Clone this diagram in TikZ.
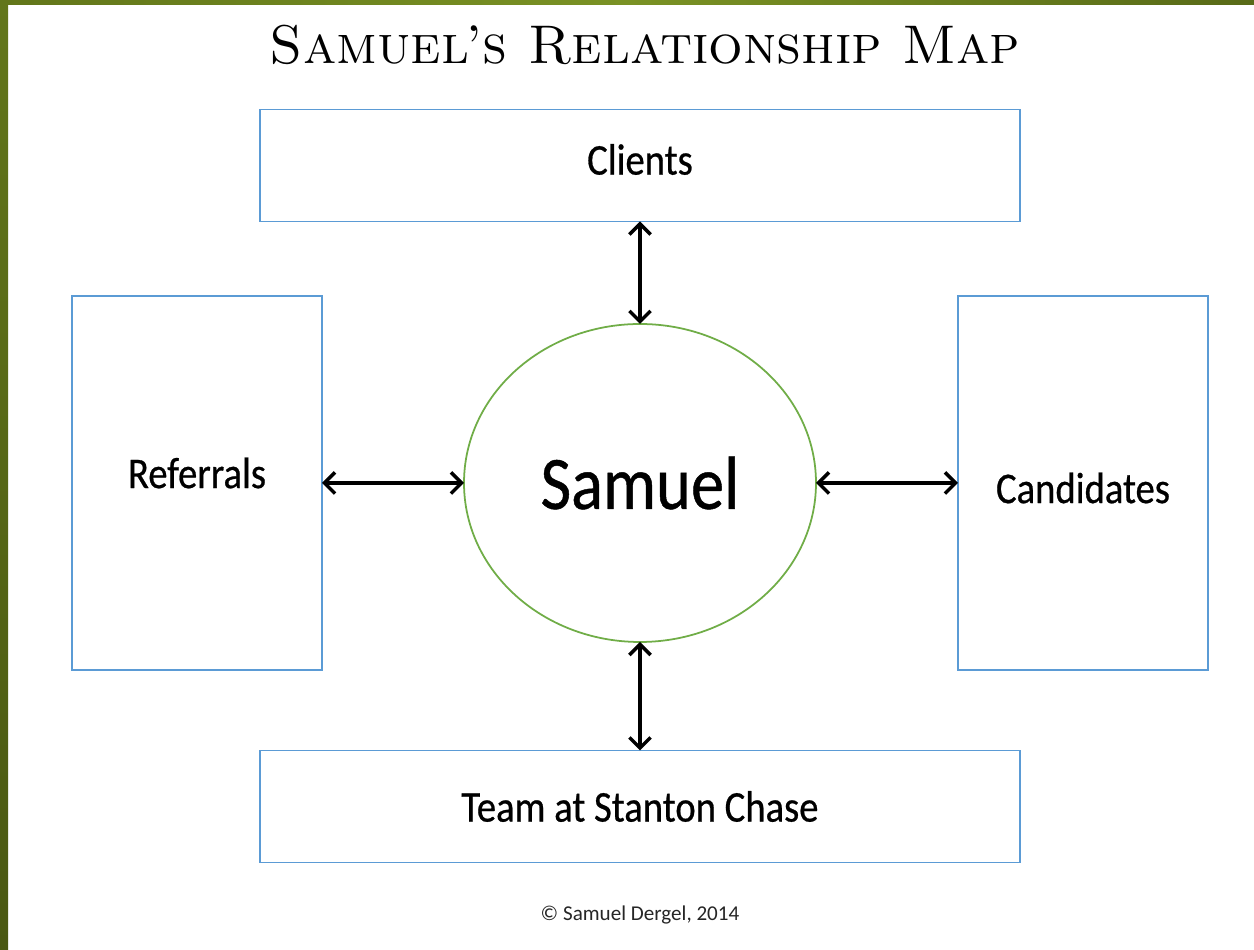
\documentclass[tikz,border=0pt]{standalone}
\usepackage{fontspec}
\newfontfamily\lblfont[FakeStretch=0.88,FakeBold=0.6]{Carlito}
\newfontfamily\notefont{Carlito}
\usetikzlibrary{arrows.meta,shapes.geometric}

\definecolor{boxblue}{RGB}{91,155,213}
\definecolor{ringgreen}{RGB}{112,173,71}
\definecolor{olivedark}{RGB}{74,88,18}
\definecolor{olivelight}{RGB}{122,146,36}
\definecolor{olivemid}{RGB}{98,118,26}

\begin{document}
\begin{tikzpicture}
\tikzset{
  rel/.style={draw=boxblue, line width=1pt, fill=white, outer sep=0pt,
    font=\lblfont\fontsize{25}{29}\selectfont},
  widebox/.style={rel, minimum width=15.2cm, minimum height=2.24cm},
  tallbox/.style={rel, minimum width=5cm, minimum height=7.48cm},
  self/.style={ellipse, draw=ringgreen, line width=1pt, outer sep=0pt, inner sep=0pt,
    minimum width=7.04cm, minimum height=6.36cm,
    font=\lblfont\fontsize{43}{48}\selectfont},
  link/.style={{Straight Barb[length=6pt,width=12pt,line width=2pt]}-{Straight Barb[length=6pt,width=12pt,line width=2pt]},
    line width=2pt, black},
}

%% frame
\useasboundingbox (0,0) rectangle (25.08,19);
\fill[white] (0,0) rectangle (25.08,19);
\shade[bottom color=olivedark, top color=olivemid] (0,0) rectangle (0.16,19);
\shade[left color=olivemid, right color=olivemid!90!black, middle color=olivelight]
  (0,18.9) rectangle (25.08,19);

%% title
\node (title) at (12.9,18.1) {\fontsize{31}{36}\selectfont\textsc{Samuel’s Relationship Map}};

%% boxes
\node[widebox, label={[yshift=0.12cm, font=\lblfont\fontsize{25}{29}\selectfont]center:Clients}] (clients) at (12.8,15.69) {};
\node[tallbox, label={[yshift=0.2cm, font=\lblfont\fontsize{25}{29}\selectfont]center:Referrals}] (referrals) at (3.94,9.34) {};
\node[tallbox, label={[yshift=-0.1cm, font=\lblfont\fontsize{25}{29}\selectfont]center:Candidates}] (candidates) at (21.66,9.34) {};
\node[widebox] (team) at (12.8,2.87) {Team at Stanton Chase};

%% centre
\node[self] (samuel) at (12.8,9.34) {Samuel};

%% arrows
\draw[link] (clients.south) -- (samuel.north);
\draw[link] (team.north) -- (samuel.south);
\draw[link] (referrals.east) -- (samuel.west);
\draw[link] (candidates.west) -- (samuel.east);

\node[font=\notefont\fontsize{12}{14}\selectfont, text=black!85] (copy) at (12.8,0.7) {© Samuel Dergel, 2014};
\end{tikzpicture}
\end{document}
